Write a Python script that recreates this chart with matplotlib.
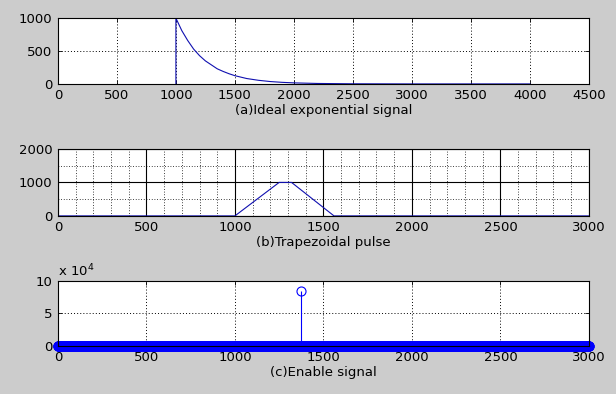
import numpy as np
import matplotlib
matplotlib.use("Agg")
import matplotlib.pyplot as plt
from matplotlib.ticker import MultipleLocator

plt.rcParams['font.family'] = ['DejaVu Sans']
plt.rcParams['font.size'] = 9.5

# (a) ideal exponential signal
exp_x = [1000, 1000, 1050, 1100, 1150, 1200, 1250, 1300, 1350, 1400, 1450, 1500,
         1600, 1700, 1800, 1900, 2000, 2200, 2500, 3000, 4000]
exp_y = [0, 1000, 810, 660, 530, 430, 350, 290, 230, 190, 155, 125,
         82, 55, 36, 24, 16, 7, 2, 0, 0]

# (b) trapezoidal pulse
trap_x = [0, 1000, 1250, 1320, 1560, 3000]
trap_y = [0, 0, 1000, 1000, 0, 0]

# (c) enable signal: one spike, rest zero
n_enable = 3001
spike_at = 1375
spike_val = 8.4e4

bg = '#cccccc'
line_c = '#1010b0'
dots = (0, (1, 2.2))

fig = plt.figure(figsize=(6.16, 3.94), dpi=100, facecolor=bg)

def style(ax):
    ax.set_facecolor('white')
    ax.tick_params(direction='in', top=True, right=True, length=3, width=0.6, pad=4)
    for s in ax.spines.values():
        s.set_linewidth(0.8)

# ---- axes 1
ax1 = fig.add_axes([0.094, 0.787, 0.862, 0.167])
ax1.plot(exp_x, exp_y, color=line_c, lw=0.8)
ax1.set_xlim(0, 4500)
ax1.set_ylim(0, 1000)
ax1.set_xticks(np.arange(0, 4501, 500))
ax1.set_yticks([0, 500, 1000])
ax1.grid(True, color='k', ls=dots, lw=0.7)
ax1.set_xlabel('(a)Ideal exponential signal', labelpad=1)
style(ax1)

# ---- axes 2
ax2 = fig.add_axes([0.094, 0.452, 0.862, 0.170])
ax2.plot(trap_x, trap_y, color=line_c, lw=0.8)
ax2.set_xlim(0, 3000)
ax2.set_ylim(0, 2000)
ax2.set_xticks(np.arange(0, 3001, 500))
ax2.set_yticks([0, 1000, 2000])
ax2.xaxis.set_minor_locator(MultipleLocator(100))
ax2.yaxis.set_minor_locator(MultipleLocator(500))
ax2.grid(True, which='major', color='k', ls='-', lw=0.8)
ax2.grid(True, which='minor', color='k', ls=dots, lw=0.6)
ax2.tick_params(which='minor', length=0)
ax2.set_xlabel('(b)Trapezoidal pulse', labelpad=1)
style(ax2)

# ---- axes 3
ax3 = fig.add_axes([0.094, 0.122, 0.862, 0.165])
en = np.zeros(n_enable)
en[spike_at] = spike_val
idx = np.arange(n_enable)
ml, sl, bl = ax3.stem(idx, en, basefmt=' ')
ml.set_color('#0000ff')
ml.set_markerfacecolor('none')
ml.set_markersize(6.5)
ml.set_markeredgewidth(0.8)
sl.set_color('#0000ff')
sl.set_linewidth(0.8)
ml.set_clip_on(False)
ax3.set_xlim(0, 3000)
ax3.set_ylim(0, 1e5)
ax3.set_xticks(np.arange(0, 3001, 500))
ax3.set_yticks([0, 5e4, 1e5])
ax3.set_yticklabels(['0', '5', '10'])
ax3.grid(True, color='k', ls=dots, lw=0.7)
ax3.set_xlabel('(c)Enable signal', labelpad=1)
ax3.text(0.0, 1.03, r'x 10$^4$', transform=ax3.transAxes, fontsize=9.5, va='bottom')
style(ax3)

fig.savefig('out.png', dpi=100, facecolor=bg)
